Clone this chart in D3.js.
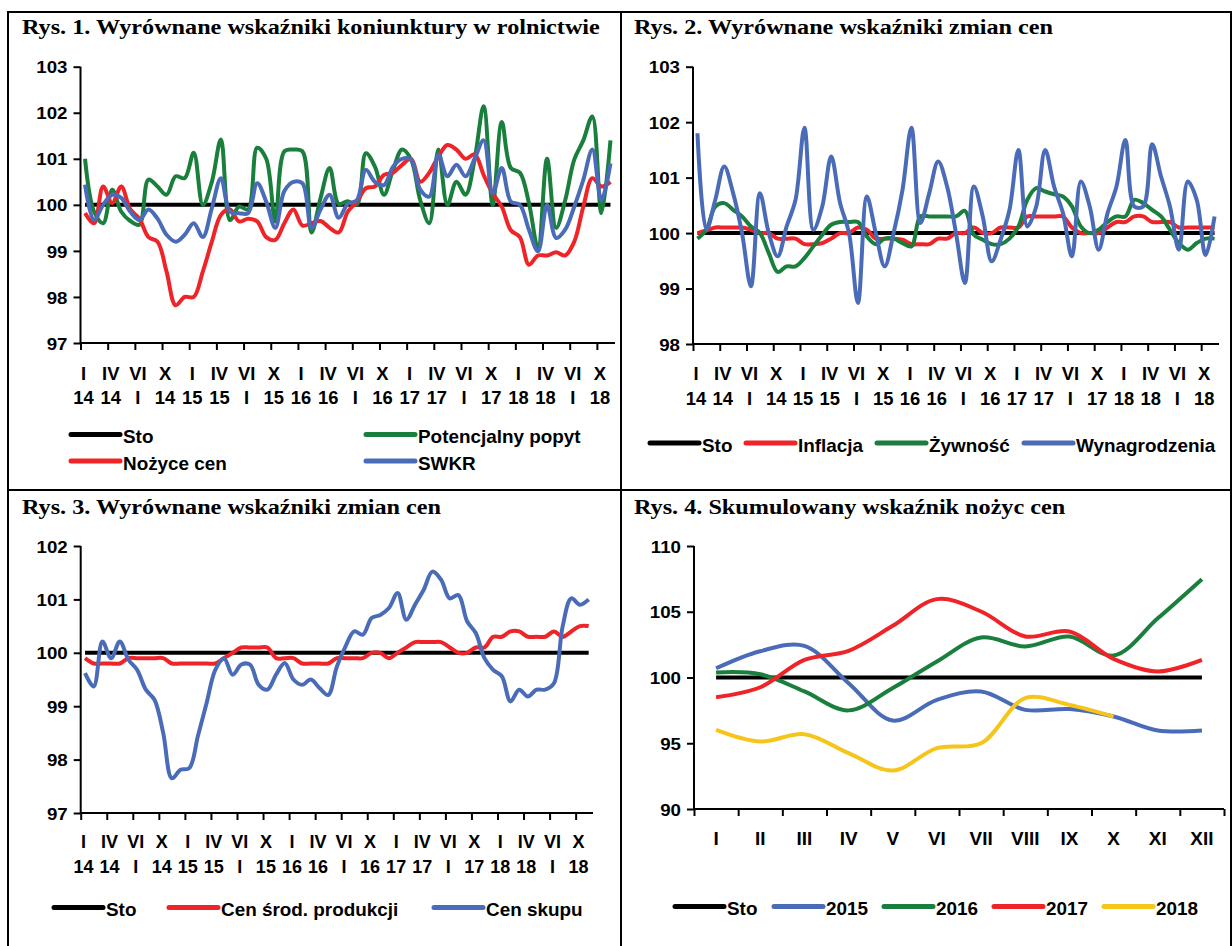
<!DOCTYPE html>
<html>
<head>
<meta charset="utf-8">
<script src="https://cdn.jsdelivr.net/npm/d3@7/dist/d3.min.js"></script>
<style>
body { margin: 0; background: #fff; }
svg text { font-family: "Liberation Sans", Arial, sans-serif; font-weight: bold; fill: #000; }
.title { font-family: "Liberation Serif", "Times New Roman", serif; font-size: 22px; }
.ylab { font-size: 17px; }
.xlab { font-size: 17.5px; }
.leg { font-size: 18px; }
</style>
</head>
<body>
<script>
// categories: monthly, I 2014 .. XI 2018 (59 months)
var months = [];
for (var yy = 2014; yy <= 2018; yy++)
    for (var mm = 1; mm <= 12; mm++) months.push(yy + "-" + mm);
months = months.slice(0, 59);

var tickTop = ["I", "IV", "VI", "X", "I", "IV", "VI", "X", "I", "IV", "VI", "X", "I", "IV", "VI", "X", "I", "IV", "VI", "X"];
var tickBottom = ["14", "14", "I", "14", "15", "15", "I", "15", "16", "16", "I", "16", "17", "17", "I", "17", "18", "18", "I", "18"];
var monthsYear = ["I", "II", "III", "IV", "V", "VI", "VII", "VIII", "IX", "X", "XI", "XII"];

// Rys. 1
var popyt = [101.0, 99.85, 99.6, 100.33, 99.85, 99.65, 99.57, 100.55, 100.4, 100.22, 100.62, 100.58, 101.13, 100.0, 100.5, 101.42, 99.67, 99.96, 99.9, 101.24,
    101.0, 99.64, 101.16, 101.2, 101.16, 99.4, 100.15, 100.8, 100.02, 100.08, 100.0, 101.12, 100.83, 100.22, 100.76, 101.2, 100.98, 100.1, 99.6, 101.2,
    100.0, 100.5, 100.22, 100.98, 102.14, 100.0, 101.8, 100.8, 100.7, 100.04, 99.06, 101.0, 99.5, 100.1, 100.98, 101.4, 101.92, 99.82, 101.4];
var nozyce = [99.82, 99.6, 100.4, 100.04, 100.4, 99.9, 99.7, 99.3, 99.2, 98.55, 97.82, 98.0, 98.0, 98.55, 99.2, 99.78, 99.9, 99.64, 99.7, 99.64,
    99.3, 99.24, 99.6, 99.9, 99.55, 99.6, 99.65, 99.5, 99.4, 99.85, 100.07, 100.36, 100.4, 100.65, 100.7, 100.87, 101.0, 100.5, 100.7, 101.05,
    101.3, 101.2, 101.0, 101.1, 100.65, 100.25, 99.96, 99.45, 99.3, 98.7, 98.9, 98.9, 98.97, 98.9, 99.2, 99.96, 100.58, 100.4, 100.5];
var swkr = [100.44, 99.67, 100.0, 100.22, 100.15, 99.85, 99.67, 99.9, 99.7, 99.35, 99.2, 99.35, 99.6, 99.3, 99.93, 100.58, 99.85, 99.82, 99.82, 100.47,
    100.07, 99.5, 100.3, 100.5, 100.47, 99.5, 99.9, 100.22, 99.72, 100.02, 100.1, 100.76, 100.5, 100.43, 100.83, 101.0, 100.98, 100.33, 100.18, 101.09,
    100.62, 100.87, 100.62, 101.0, 101.4, 100.25, 100.8, 100.07, 100.0, 99.46, 98.99, 100.0, 99.28, 99.46, 99.96, 100.54, 101.2, 100.1, 100.9];

// Rys. 2
var inflacja = [100.0, 100.05, 100.1, 100.1, 100.1, 100.1, 100.06, 100.0, 100.0, 99.9, 99.9, 99.9, 99.8, 99.8, 99.82, 99.9, 100.0, 100.0, 100.1, 100.06,
    99.9, 99.9, 99.9, 99.88, 99.8, 99.8, 99.8, 99.9, 99.9, 100.0, 100.0, 100.1, 100.0, 100.0, 100.1, 100.1, 100.1, 100.3, 100.3, 100.3,
    100.3, 100.3, 100.1, 100.0, 100.0, 100.0, 100.1, 100.2, 100.2, 100.3, 100.3, 100.2, 100.2, 100.2, 100.1, 100.1, 100.1, 100.1, 100.1];
var zywnosc = [99.9, 100.06, 100.48, 100.54, 100.42, 100.3, 100.12, 100.0, 99.64, 99.3, 99.4, 99.4, 99.55, 99.76, 99.97, 100.15, 100.2, 100.2, 100.2, 99.94,
    99.8, 99.9, 99.9, 99.82, 99.76, 100.3, 100.3, 100.3, 100.3, 100.3, 100.4, 99.97, 99.88, 99.8, 99.8, 99.9, 100.12, 100.6, 100.81, 100.75,
    100.7, 100.66, 100.48, 100.12, 100.0, 100.06, 100.2, 100.3, 100.3, 100.6, 100.54, 100.42, 100.3, 100.06, 99.82, 99.7, 99.82, 99.9, 99.9];
var wynagrodzenia = [101.8, 100.06, 100.6, 101.2, 100.72, 100.0, 99.04, 100.72, 100.0, 99.58, 100.12, 100.6, 101.9, 100.06, 100.48, 101.38, 100.54, 100.0, 98.74, 100.66,
    100.0, 99.4, 100.0, 100.78, 101.9, 100.18, 100.72, 101.29, 100.84, 100.0, 99.1, 100.84, 100.3, 99.49, 99.88, 100.42, 101.5, 100.12, 100.48, 101.5,
    100.84, 100.36, 99.58, 100.93, 100.48, 99.7, 100.36, 100.84, 101.68, 100.48, 100.48, 101.6, 101.02, 100.48, 99.7, 100.93, 100.6, 99.6, 100.3];

// Rys. 3
var srodki = [99.9, 99.8, 99.8, 99.8, 99.8, 99.9, 99.9, 99.9, 99.9, 99.9, 99.8, 99.8, 99.8, 99.8, 99.8, 99.8, 99.9, 100.0, 100.1, 100.1,
    100.1, 100.1, 99.9, 99.9, 99.9, 99.8, 99.8, 99.8, 99.8, 99.9, 99.9, 99.9, 99.9, 100.0, 100.0, 99.9, 100.0, 100.1, 100.2, 100.2,
    100.2, 100.2, 100.1, 100.0, 100.0, 100.1, 100.1, 100.3, 100.3, 100.4, 100.4, 100.3, 100.3, 100.3, 100.4, 100.3, 100.4, 100.5, 100.5];
var skup = [99.62, 99.37, 100.21, 99.9, 100.21, 99.87, 99.68, 99.31, 99.12, 98.5, 97.65, 97.81, 97.84, 98.44, 99.06, 99.68, 99.9, 99.59, 99.78, 99.78,
    99.4, 99.31, 99.59, 99.81, 99.5, 99.4, 99.5, 99.34, 99.21, 99.74, 100.12, 100.4, 100.34, 100.65, 100.71, 100.84, 101.12, 100.62, 100.9, 101.18,
    101.52, 101.37, 101.02, 101.08, 100.59, 100.37, 99.9, 99.68, 99.56, 99.09, 99.31, 99.18, 99.31, 99.31, 99.43, 100.49, 101.02, 100.9, 101.0];

// Rys. 4
var y2015 = [100.7, 102.0, 102.4, 99.57, 96.73, 98.3, 98.94, 97.54, 97.6, 97.03, 95.97, 95.97];
var y2016 = [100.38, 100.25, 98.94, 97.5, 99.2, 101.22, 103.04, 102.36, 103.12, 101.67, 104.5, 107.48];
var y2017 = [98.5, 99.26, 101.34, 102.03, 103.93, 105.96, 105.02, 103.12, 103.5, 101.42, 100.46, 101.34];
var y2018 = [96.02, 95.13, 95.69, 94.25, 92.93, 94.63, 95.0, 98.43, 97.92, 97.03];

var GREEN = "#1a7f3d", RED = "#ee2428", BLUE = "#4a6cb8", YELLOW = "#f6c51b", BLACK = "#000";

var W = 1232, H = 946;
var svg = d3.select("body").append("svg").attr("width", W).attr("height", H);

// the scanned original has slightly wide lettering
function stretch(sel, sx) {
    sel.each(function () {
        var t = d3.select(this);
        var tx = +t.attr("x") || 0, ty = +t.attr("y") || 0;
        t.attr("x", 0).attr("y", 0).attr("transform", "translate(" + tx + "," + ty + ") scale(" + sx + ",1)");
    });
}

// frame and dividers
svg.append("rect").attr("x", 8).attr("y", 12).attr("width", 1223).attr("height", 940)
    .attr("fill", "none").attr("stroke", "#000").attr("stroke-width", 2);
svg.append("line").attr("x1", 621).attr("x2", 621).attr("y1", 12).attr("y2", H).attr("stroke", "#000").attr("stroke-width", 2);
svg.append("line").attr("x1", 8).attr("x2", 1231).attr("y1", 490).attr("y2", 490).attr("stroke", "#000").attr("stroke-width", 2);

function drawPanel(p) {
    var g = svg.append("g");
    g.append("text").attr("class", "title").attr("x", p.titleX).attr("y", p.titleY).text(p.title)
        .call(stretch, 1.1);

    var n = p.cats.length;
    var x = d3.scaleLinear().domain([-0.5, n - 0.5]).range([p.x0, p.x1]);
    var y = d3.scaleLinear().domain(p.yDomain).range([p.yBot, p.yTop]);

    // y axis
    var ya = g.append("g").attr("transform", "translate(" + p.x0 + ",0)")
        .call(d3.axisLeft(y).tickValues(p.yTicks).tickSize(7).tickPadding(6).tickFormat(d3.format("d")));
    ya.select(".domain").attr("stroke-width", 2).attr("d", "M0," + p.yTop + "V" + p.yBot);
    ya.selectAll(".tick line").attr("stroke-width", 2);
    ya.selectAll(".tick text").attr("class", "ylab").attr("font-size", null).attr("font-family", null)
        .attr("dy", "0.36em").call(stretch, 1.1);

    // x axis (ticks on category boundaries)
    var xa = g.append("g").attr("transform", "translate(0," + p.yBot + ")")
        .call(d3.axisBottom(x).tickValues(p.xTickVals).tickSize(7).tickFormat(""));
    xa.select(".domain").attr("stroke-width", 2).attr("d", "M" + p.x0 + ",0H" + p.x1);
    xa.selectAll(".tick line").attr("stroke-width", 2);

    var labs = g.append("g");
    p.labelRows.forEach(function (row, r) {
        labs.selectAll(null).data(row).enter().append("text")
            .attr("class", "xlab")
            .attr("text-anchor", "middle")
            .attr("x", function (d, i) { return x(p.labelIdx[i]) + p.labelShift; })
            .attr("y", p.labelY[r])
            .text(function (d) { return d; })
            .call(stretch, p.labelStretch);
    });

    var line = d3.line()
        .x(function (d, i) { return x(i); })
        .y(function (d) { return y(d); })
        .curve(d3.curveCatmullRom.alpha(0.5));

    // Sto reference line
    g.append("path").datum(p.cats.map(function () { return 100; }))
        .attr("d", d3.line().x(function (d, i) { return x(i); }).y(function (d) { return y(d); }))
        .attr("fill", "none").attr("stroke", BLACK).attr("stroke-width", 4);

    p.series.forEach(function (s) {
        g.append("path").datum(s.values)
            .attr("d", line)
            .attr("fill", "none")
            .attr("stroke", s.color)
            .attr("stroke-width", 4)
            .attr("stroke-linejoin", "round");
    });

    // legend
    var items = [{ name: "Sto", color: BLACK }].concat(p.series);
    items.forEach(function (s, i) {
        var L = p.legend[i];
        g.append("line").attr("x1", L[0]).attr("x2", L[0] + 49).attr("y1", L[1]).attr("y2", L[1])
            .attr("stroke", s.color).attr("stroke-width", 5).attr("stroke-linecap", "round");
        g.append("text").attr("class", "leg").attr("x", L[0] + 52).attr("y", L[1] + 8.5).text(s.name)
            .call(stretch, 1.05);
    });
}

var boundaryTicks = d3.range(0, 20).map(function (k) { return 3 * k - 0.5; });
var labelIdx = d3.range(0, 20).map(function (k) { return 3 * k; });

drawPanel({
    title: "Rys. 1. Wyrównane wskaźniki koniunktury w rolnictwie", titleX: 22, titleY: 34,
    cats: months, x0: 80.5, x1: 615, yTop: 66.7, yBot: 343, yDomain: [97, 103], yTicks: [97, 98, 99, 100, 101, 102, 103],
    xTickVals: boundaryTicks, labelIdx: labelIdx, labelShift: -1.5, labelStretch: 1.05,
    labelRows: [tickTop, tickBottom], labelY: [379.5, 403.5],
    series: [
        { name: "Potencjalny popyt", color: GREEN, values: popyt },
        { name: "Nożyce cen", color: RED, values: nozyce },
        { name: "SWKR", color: BLUE, values: swkr }
    ],
    legend: [[71, 434.5], [366, 434.5], [71, 461], [366, 461]]
});

drawPanel({
    title: "Rys. 2. Wyrównane wskaźniki zmian cen", titleX: 634, titleY: 34,
    cats: months, x0: 693, x1: 1219, yTop: 66.7, yBot: 344, yDomain: [98, 103], yTicks: [98, 99, 100, 101, 102, 103],
    xTickVals: boundaryTicks, labelIdx: labelIdx, labelShift: -1.5, labelStretch: 1.05,
    labelRows: [tickTop, tickBottom], labelY: [379.5, 404.5],
    series: [
        { name: "Inflacja", color: RED, values: inflacja },
        { name: "Żywność", color: GREEN, values: zywnosc },
        { name: "Wynagrodzenia", color: BLUE, values: wynagrodzenia }
    ],
    legend: [[650, 443], [746, 443], [877, 443], [1024, 443]]
});

drawPanel({
    title: "Rys. 3. Wyrównane wskaźniki zmian cen", titleX: 22, titleY: 514,
    cats: months, x0: 80.7, x1: 593, yTop: 546, yBot: 813, yDomain: [97, 102], yTicks: [97, 98, 99, 100, 101, 102],
    xTickVals: boundaryTicks, labelIdx: labelIdx, labelShift: -1.5, labelStretch: 1.03,
    labelRows: [tickTop, tickBottom], labelY: [848, 873],
    series: [
        { name: "Cen środ. produkcji", color: RED, values: srodki },
        { name: "Cen skupu", color: BLUE, values: skup }
    ],
    legend: [[54, 907.5], [169, 907.5], [434, 907.5]]
});

drawPanel({
    title: "Rys. 4. Skumulowany wskaźnik nożyc cen", titleX: 634, titleY: 514,
    cats: monthsYear, x0: 694, x1: 1224, yTop: 546, yBot: 809, yDomain: [90, 110], yTicks: [90, 95, 100, 105, 110],
    xTickVals: d3.range(0, 13).map(function (k) { return k - 0.5; }), labelIdx: d3.range(0, 12), labelShift: 0, labelStretch: 1.08,
    labelRows: [monthsYear], labelY: [845],
    series: [
        { name: "2015", color: BLUE, values: y2015 },
        { name: "2016", color: GREEN, values: y2016 },
        { name: "2017", color: RED, values: y2017 },
        { name: "2018", color: YELLOW, values: y2018 }
    ],
    legend: [[675, 906.5], [774, 906.5], [884, 906.5], [994, 906.5], [1104, 906.5]]
});
</script>
</body>
</html>
